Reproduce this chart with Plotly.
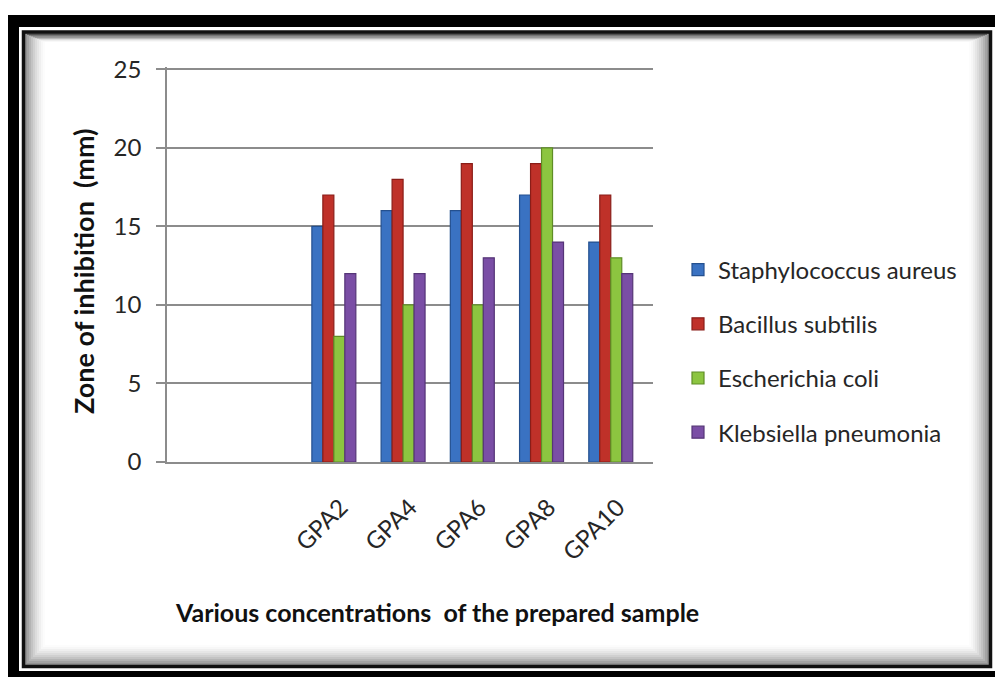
import plotly.graph_objects as go

# Zone of inhibition (mm) for each sample concentration
samples = ["GPA2", "GPA4", "GPA6", "GPA8", "GPA10"]
staph_aureus = [15, 16, 16, 17, 14]
bacillus_subtilis = [17, 18, 19, 19, 17]
e_coli = [8, 10, 10, 20, 13]
klebsiella = [12, 12, 13, 14, 12]

series_names = ["Staphylococcus aureus", "Bacillus subtilis",
                "Escherichia coli", "Klebsiella pneumonia"]
series_values = [staph_aureus, bacillus_subtilis, e_coli, klebsiella]
fill_colors = ["#3a72c2", "#bf3129", "#8cc540", "#7a4ea5"]
edge_colors = ["#24508f", "#8a1d18", "#5f8d26", "#553577"]
y_ticks = [0, 5, 10, 15, 20, 25]

W, H = 995, 677
L, R, T, B = 167, W - 653, 67, H - 462
PW, PH = W - L - R, H - T - B

FONT = "Lato"


def px(x):
    return (x - L) / PW


def py(y):
    return (H - B - y) / PH


fig = go.Figure()
for name, vals, fc, ec in zip(series_names, series_values, fill_colors, edge_colors):
    fig.add_trace(go.Bar(
        x=samples, y=vals, name=name, legendgroup=name,
        marker=dict(color=fc, line=dict(color=ec, width=1.2)),
    ))

# double picture frame with a soft inner shadow
shapes = [
    dict(type="rect", xref="paper", yref="paper", layer="below",
         x0=px(8), x1=px(1010), y0=py(15), y1=py(700),
         fillcolor="black", line=dict(width=0)),
    dict(type="rect", xref="paper", yref="paper", layer="below",
         x0=px(19), x1=px(1000), y0=py(27), y1=py(671),
         fillcolor="white", line=dict(width=0)),
    dict(type="rect", xref="paper", yref="paper", layer="below",
         x0=px(23.5), x1=px(990.5), y0=py(32), y1=py(666.5),
         fillcolor="white", line=dict(color="#111111", width=3.5)),
]
for i in range(10):
    a = 0.42 * (1 - i / 10) ** 1.6
    shapes.append(dict(
        type="rect", xref="paper", yref="paper", layer="below",
        x0=px(26 + 2 * i), x1=px(988 - 2 * i),
        y0=py(34 + 0.8 * i), y1=py(664 - 2 * i),
        line=dict(color=f"rgba(0,0,0,{a:.3f})", width=2),
    ))

fig.update_layout(
    width=W, height=H,
    margin=dict(l=L, r=R, t=T, b=B, autoexpand=False),
    paper_bgcolor="white", plot_bgcolor="rgba(0,0,0,0)",
    barmode="group", bargap=0.365, bargroupgap=0,
    font=dict(family=FONT, color="#262626"),
    shapes=shapes,
    showlegend=True,
    legend=dict(
        x=px(678), xanchor="left", y=py(351), yanchor="middle",
        font=dict(size=24, color="#262626", family=FONT),
        tracegroupgap=20, bgcolor="rgba(0,0,0,0)",
    ),
    annotations=[
        dict(text="<b>Zone of inhibition  (mm)</b>", textangle=-90,
             xref="paper", yref="paper", x=px(83), y=py(272),
             xanchor="center", yanchor="middle",
             showarrow=False, font=dict(size=27, family=FONT, color="#111111")),
        dict(text="<b>Various concentrations  of the prepared sample</b>",
             xref="paper", yref="paper", x=px(436.5), y=py(612),
             xanchor="center", yanchor="middle",
             showarrow=False, font=dict(size=25, family=FONT, color="#111111")),
    ],
)

fig.update_xaxes(
    type="category", range=[-2.41, 4.61],
    showline=True, linecolor="#8c8c8c", linewidth=1.5,
    showgrid=False, ticks="", tickangle=-45,
    ticklabelstandoff=20, ticklabelshift=7,
    tickfont=dict(size=24, family=FONT, color="#262626"),
)
fig.update_yaxes(
    range=[0, 25.15], tickvals=y_ticks,
    showgrid=True, gridcolor="#8c8c8c", gridwidth=1.5,
    showline=True, linecolor="#8c8c8c", linewidth=1.5,
    ticks="outside", ticklen=9, tickcolor="#8c8c8c", tickwidth=1.5,
    ticklabelstandoff=10, zeroline=False,
    tickfont=dict(size=24, family=FONT, color="#262626"),
)

fig.write_html("out.html")
